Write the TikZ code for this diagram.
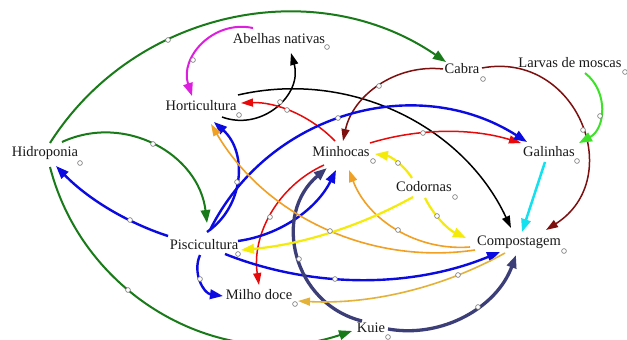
\documentclass[tikz,border=0pt]{standalone}
\usepackage{fontspec}
\setmainfont{Liberation Serif}
\usetikzlibrary{arrows.meta,calc}

\definecolor{cGreen}{RGB}{25,122,25}
\definecolor{cBlue}{RGB}{10,10,225}
\definecolor{cNavy}{RGB}{60,62,120}
\definecolor{cRed}{RGB}{232,10,10}
\definecolor{cMaroon}{RGB}{125,15,15}
\definecolor{cLime}{RGB}{60,225,40}
\definecolor{cMagenta}{RGB}{222,30,222}
\definecolor{cCyan}{RGB}{20,225,240}
\definecolor{cOrange}{RGB}{240,160,35}
\definecolor{cGold}{RGB}{228,178,55}
\definecolor{cYellow}{RGB}{245,235,10}

\begin{document}
\begin{tikzpicture}[x=1pt,y=-1pt,
  lbl/.style={font=\fontsize{14.5}{16}\selectfont, text=black!90, inner sep=0pt},
  tipS/.style={-{Triangle[length=12pt,width=8pt]}},
  tipL/.style={-{Triangle[length=13pt,width=9.5pt]}},
  gr/.style={draw=cGreen, line width=2pt, tipL},
  bl/.style={draw=cBlue, line width=2.4pt, tipL},
  nv/.style={draw=cNavy, line width=3.3pt, tipL},
  rd/.style={draw=cRed, line width=1.5pt, tipS},
  bk/.style={draw=black, line width=1.5pt, tipS},
  mr/.style={draw=cMaroon, line width=1.5pt, tipS},
  lm/.style={draw=cLime, line width=2pt, tipL},
  mg/.style={draw=cMagenta, line width=2pt, tipL},
  cy/.style={draw=cCyan, line width=2.5pt, tipL},
  orl/.style={draw=cOrange, line width=1.6pt, tipS},
  gd/.style={draw=cGold, line width=1.6pt, tipS},
  yl/.style={draw=cYellow, line width=2.2pt, tipL},
  handle/.style={draw=black!55, fill=white, line width=0.6pt},
]
\useasboundingbox (0,0) rectangle (627,340);
\fill[white] (0,0) rectangle (627,340);

% variables
\node[lbl] (abel)  at (279,39)  {Abelhas nativas};
\node[lbl] (cabra) at (462,69)  {Cabra};
\node[lbl] (larv)  at (570,63)  {Larvas de moscas};
\node[lbl] (hort)  at (201,106) {Horticultura};
\node[lbl] (hidro) at (45,153)  {Hidroponia};
\node[lbl] (minh)  at (341,152) {Minhocas};
\node[lbl] (gal)   at (549,152) {Galinhas};
\node[lbl] (cod)   at (424,187) {Codornas};
\node[lbl] (pisc)  at (204,245) {Piscicultura};
\node[lbl] (comp)  at (519,242) {Compostagem};
\node[lbl] (milho) at (259,295) {Milho doce};
\node[lbl] (kuie)  at (371,328) {Kuie};

% links
\draw[gr] ($(hidro)+(5,-10)$)  to[bend left=46, looseness=1.0]  ($(cabra)+(-16,-7)$);
\draw[gr] ($(hidro)+(17,-11)$) to[bend left=54, looseness=1.07] ($(pisc)+(3,-22)$);
\draw[gr] ($(hidro)+(5,14)$)   to[bend right=47, looseness=1.01] ($(kuie)+(-19,3)$);

\draw[mg] ($(abel)+(-26,-11)$) to[bend right=60, looseness=1.14] ($(hort)+(-9,-10)$);
\draw[bk] ($(hort)+(21,11)$)   to[bend right=63, looseness=1.17] ($(abel)+(12,14)$);
\draw[bk] ($(hort)+(37,-11)$)  to[bend left=39, looseness=0.96]  ($(comp)+(-8,-14)$);

\draw[mr] ($(cabra)+(-19,0)$)  to[bend right=42, looseness=0.98] ($(minh)+(2,-11)$);
\draw[mr] ($(cabra)+(20,-1)$)  to[bend left=79, looseness=1.42]  ($(comp)+(27,-12)$);
\draw[lm] ($(larv)+(15,10)$)   to[bend left=57, looseness=1.10]  ($(gal)+(30,-9)$);

\draw[rd] ($(minh)+(-6,-11)$)  to[bend right=24, looseness=0.89] ($(hort)+(40,-3)$);
\draw[rd] ($(minh)+(29,-9)$)   to[bend left=17, looseness=0.87]  ($(gal)+(-28,-9)$);
\draw[rd] ($(minh)+(-17,13)$)  to[bend right=37, looseness=0.95] ($(milho)+(0,-10)$);

\draw[bl] ($(pisc)+(6,-15)$)   to[bend left=48, looseness=1.02]  ($(gal)+(-22,-10)$);
\draw[bl] ($(pisc)+(3,-13)$)   to[bend right=52, looseness=1.05] ($(hort)+(13,16)$);
\draw[bl] ($(pisc)+(-36,-9)$)  to[bend left=14, looseness=0.86]  ($(hidro)+(11,13)$);
\draw[bl] ($(pisc)+(-4,10)$)   to[bend right=53, looseness=1.07] ($(milho)+(-36,1)$);
\draw[bl] ($(pisc)+(21,9)$)    to[bend right=22, looseness=0.88] ($(comp)+(-19,10)$);
\draw[bl] ($(pisc)+(34,-4)$)   to[bend right=28, looseness=0.91] ($(minh)+(-5,18)$);

\draw[nv] ($(kuie)+(-9,-7)$)   to[bend left=63, looseness=1.17]  ($(minh)+(-14,16)$);
\draw[nv] ($(kuie)+(17,1)$)    to[bend right=40, looseness=0.96] ($(comp)+(-3,13)$);

\draw[orl] ($(comp)+(-44,8)$)  to[bend left=34, looseness=0.93]  ($(hort)+(10,18)$);
\draw[orl] ($(comp)+(-49,5)$)  to[bend left=37, looseness=0.95]  ($(minh)+(8,18)$);
\draw[gd]  ($(comp)+(-14,11)$) to[bend left=16, looseness=0.87]  ($(milho)+(39,6)$);

\draw[yl] ($(cod)+(-12,-9)$)   to[bend right=25, looseness=0.89] ($(minh)+(34,2)$);
\draw[yl] ($(cod)+(1,11)$)     to[bend right=19, looseness=0.88] ($(comp)+(-53,-4)$);
\draw[yl] ($(cod)+(-11,10)$)   to[bend left=12, looseness=0.86]  ($(pisc)+(37,5)$);

\draw[cy] ($(gal)+(-4,10)$) -- ($(comp)+(3,-10)$);

% link handles
\foreach \p in {(168,40),(153,144),(128,290),(193,60),(280,102),(287,110),
  (379,86),(583,130),(600,116),(338,118),(423,133),(237,182),(130,220),
  (200,279),(335,279),(270,217),(299,259),(478,307),(330,231),(398,230),
  (458,275),(398,163),(437,216)}
  \draw[handle] \p circle (2.4);

% variable markers
\foreach \p in {(327,47),(483,79),(625,72),(239,115),(80,163),(373,161),
  (577,161),(455,197),(564,251),(238,254),(295,304),(388,337)}
  \draw[handle] \p circle (2.4);
\end{tikzpicture}
\end{document}
